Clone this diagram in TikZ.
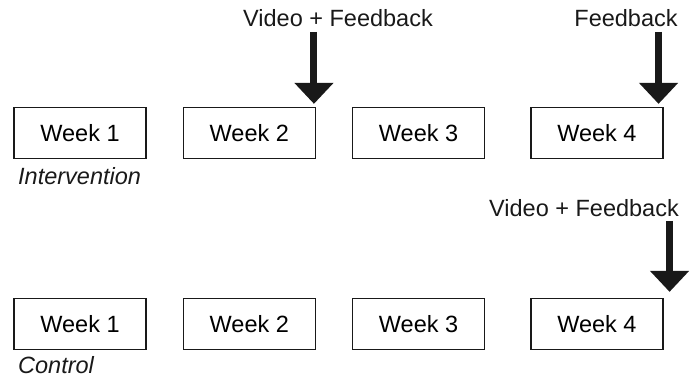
\documentclass[tikz,border=0pt]{standalone}
\usepackage{fontspec}
\setmainfont{Liberation Sans}
\usetikzlibrary{positioning,arrows.meta}

\begin{document}
\begin{tikzpicture}[
	% Week box style
	week/.style={rectangle,draw=black!90,line width=1.3pt,minimum width=132pt,minimum height=51pt,inner sep=0pt,font=\fontsize{23.5}{28}\selectfont},
	% Text above the arrows
	cue/.style={inner sep=0pt,anchor=base,text=black!90,font=\fontsize{23.5}{28}\selectfont},
	% Group names under the rows
	group/.style={inner sep=0pt,anchor=base west,text=black!90,font=\fontsize{23.5}{28}\selectfont\itshape},
	% Arrow style
	fat/.style={line width=7pt,draw=black!90,-{Triangle[width=38pt,length=21pt]}}
	]
	\useasboundingbox (0,0) rectangle (695pt,379pt);
	%% Intervention row
	\node (i1) [week] at (80pt,246pt) {Week 1};
	\node (i2) [week,right=36pt of i1] {Week 2};
	\node (i3) [week,right=36pt of i2] {Week 3};
	\node (i4) [week,right=45pt of i3] {Week 4};
	\node (gi) [group] at (18pt,194pt) {Intervention};
	\node (l1) [cue] at (338pt,352pt) {Video + Feedback};
	\node (l2) [cue] at (626pt,352pt) {Feedback};
	\draw [fat] ([xshift=-2pt,yshift=-5pt]i2.north east |- l1.base) -- ([xshift=-2pt,yshift=3pt]i2.north east);
	\draw [fat] ([xshift=-5pt,yshift=-5pt]i4.north east |- l2.base) -- ([xshift=-5pt,yshift=3pt]i4.north east);
	%% Control row
	\node (c1) [week] at (80pt,55pt) {Week 1};
	\node (c2) [week,right=36pt of c1] {Week 2};
	\node (c3) [week,right=36pt of c2] {Week 3};
	\node (c4) [week,right=45pt of c3] {Week 4};
	\node (gc) [group] at (18pt,5pt) {Control};
	\node (l3) [cue] at (584pt,162pt) {Video + Feedback};
	\draw [fat] ([xshift=6pt,yshift=-4pt]c4.north east |- l3.base) -- ([xshift=6pt,yshift=6pt]c4.north east);
\end{tikzpicture}
\end{document}
